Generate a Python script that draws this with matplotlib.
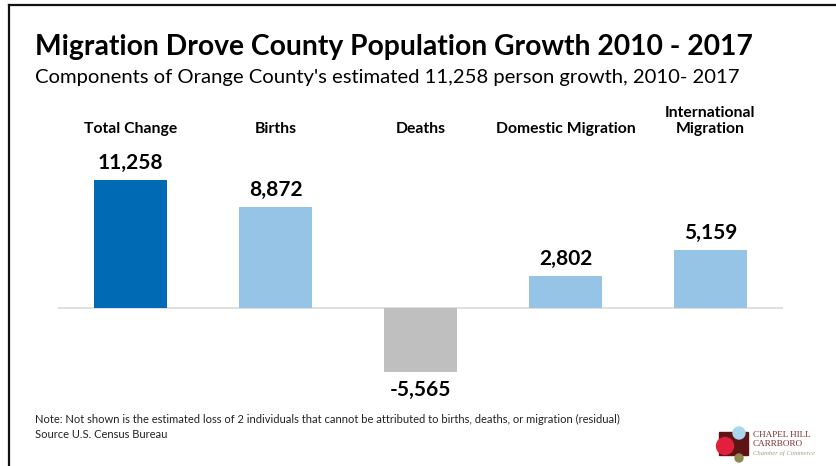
import matplotlib
matplotlib.use('Agg')
import matplotlib.pyplot as plt
from matplotlib.transforms import blended_transform_factory
from matplotlib.patches import Rectangle, Circle

W, H = 836, 466

categories = ['Total Change', 'Births', 'Deaths', 'Domestic Migration', 'International\nMigration']
values = [11258, 8872, -5565, 2802, 5159]
colors = ['#006AB4', '#95C4E6', '#BFBFBF', '#95C4E6', '#95C4E6']

title = 'Migration Drove County Population Growth 2010 - 2017'
subtitle = "Components of Orange County's estimated 11,258 person growth, 2010- 2017"
note = ('Note: Not shown is the estimated loss of 2 individuals that cannot be attributed to births, deaths, or migration (residual)\n'
        'Source U.S. Census Bureau')

plt.rcParams['font.family'] = ['Lato', 'DejaVu Sans']

fig = plt.figure(figsize=(W / 100, H / 100), dpi=100)
fig.patch.set_facecolor('white')

def fx(x):
    return x / W

def fy(y):
    return 1 - y / H

# frame lines (top and left)
fig.add_artist(plt.Line2D([fx(9), 1], [fy(5), fy(5)], color='#111111', lw=1.6))
fig.add_artist(plt.Line2D([fx(9), fx(9)], [fy(5), 0], color='#111111', lw=1.6))

fig.text(fx(35), fy(47), title, fontsize=20.3, fontweight='bold', va='center', ha='left')
fig.text(fx(35), fy(77), subtitle, fontsize=14.6, va='center', ha='left')

# bars
ax = fig.add_axes([fx(58), fy(388), fx(783) - fx(58), (388 - 166) / H])
x = list(range(len(values)))
ax.bar(x, values, width=0.5, color=colors)
ax.axhline(0, color='#D9D9D9', lw=1.2, zorder=0)
ax.set_xlim(-0.5, 4.5)
ax.set_ylim(-7000, 12500)
ax.axis('off')

for i, v in enumerate(values):
    if v >= 0:
        ax.annotate(f'{v:,}', (i, v), xytext=(0, 5), textcoords='offset points',
                    ha='center', va='bottom', fontsize=15, fontweight='bold')
    else:
        ax.annotate(f'{v:,}', (i, v), xytext=(0, -6), textcoords='offset points',
                    ha='center', va='top', fontsize=15, fontweight='bold')

tr = blended_transform_factory(ax.transData, fig.transFigure)
for i, c in enumerate(categories):
    ax.text(i, fy(136), c, transform=tr, ha='center', va='bottom',
            fontsize=11.3, fontweight='bold', linespacing=1.15)

fig.text(fx(35), fy(427), note, fontsize=8, va='center', ha='left',
         color='#222222', linespacing=1.5)

# logo
lax = fig.add_axes([fx(700), fy(466), fx(836) - fx(700), 41 / H])
lax.set_xlim(700, 836)
lax.set_ylim(466, 425)
lax.axis('off')
lax.add_patch(Rectangle((719, 432), 29, 23, color='#5E1414'))
lax.add_patch(Circle((725, 446), 8.5, color='#E0203C'))
lax.add_patch(Circle((739, 433), 6, color='#A9D6EE'))
lax.add_patch(Circle((739, 458), 4, color='#8C8A50'))
lax.text(753, 435, 'CHAPEL HILL', fontsize=6.6, color='#7A2A2A', family='Liberation Serif', va='center')
lax.text(753, 444, 'CARRBORO', fontsize=6.6, color='#7A2A2A', family='Liberation Serif', va='center')
lax.text(753, 453, 'Chamber of Commerce', fontsize=4.8, color='#A0A080', family='Liberation Serif',
         style='italic', va='center')

fig.savefig('out.png', dpi=100, facecolor='white')
